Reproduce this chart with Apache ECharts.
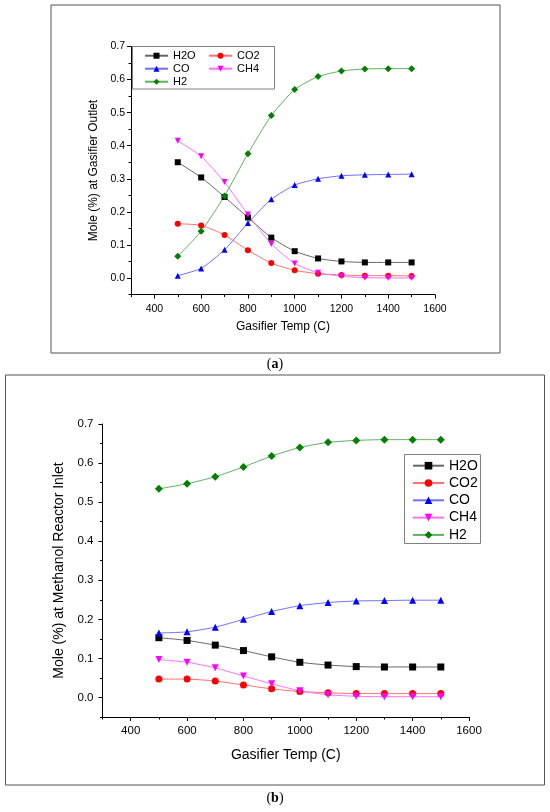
<!DOCTYPE html>
<html>
<head>
<meta charset="utf-8">
<script src="https://cdn.jsdelivr.net/npm/echarts@6/dist/echarts.min.js"></script>
<style>
html, body { margin: 0; padding: 0; background: #fff; }
#main { width: 550px; height: 812px; }
</style>
</head>
<body>
<div id="main"></div>
<script>
// gasifier temperature (C)
const temps = [500, 600, 700, 800, 900, 1000, 1100, 1200, 1300, 1400, 1500];

// (a) mole fraction at gasifier outlet
const outletH2O = [0.350, 0.304, 0.245, 0.183, 0.122, 0.081, 0.059, 0.050, 0.047, 0.047, 0.047];
const outletCO2 = [0.164, 0.159, 0.130, 0.084, 0.045, 0.023, 0.013, 0.009, 0.007, 0.007, 0.006];
const outletCO  = [0.007, 0.029, 0.085, 0.166, 0.238, 0.281, 0.300, 0.309, 0.312, 0.313, 0.314];
const outletCH4 = [0.415, 0.368, 0.290, 0.192, 0.103, 0.044, 0.016, 0.005, 0.001, 0.000, 0.000];
const outletH2  = [0.066, 0.141, 0.248, 0.376, 0.491, 0.570, 0.609, 0.626, 0.632, 0.633, 0.633];

// (b) mole fraction at methanol reactor inlet
const inletH2O = [0.153, 0.146, 0.134, 0.120, 0.104, 0.090, 0.083, 0.079, 0.078, 0.078, 0.078];
const inletCO2 = [0.047, 0.047, 0.042, 0.032, 0.022, 0.015, 0.012, 0.010, 0.010, 0.010, 0.010];
const inletCO  = [0.165, 0.168, 0.180, 0.200, 0.220, 0.235, 0.243, 0.247, 0.248, 0.249, 0.249];
const inletCH4 = [0.097, 0.090, 0.076, 0.055, 0.035, 0.017, 0.007, 0.003, 0.002, 0.002, 0.002];
const inletH2  = [0.534, 0.547, 0.565, 0.590, 0.618, 0.640, 0.653, 0.658, 0.660, 0.660, 0.660];

// tick positions
const xMajor = [400, 600, 800, 1000, 1200, 1400, 1600];
const xMinor = [300, 500, 700, 900, 1100, 1300, 1500];
const yMajor = [0, 0.1, 0.2, 0.3, 0.4, 0.5, 0.6, 0.7];
const yMinor = [-0.05, 0.05, 0.15, 0.25, 0.35, 0.45, 0.55, 0.65];

const FONT = 'Liberation Sans';
const downTriangle = 'path://M0,0 L10,0 L5,9 Z';

const STYLES = {
    H2O: { symbol: 'rect', color: '#000000', line: '#666666' },
    CO2: { symbol: 'circle', color: '#ff0000', line: '#ff7070' },
    CO:  { symbol: 'triangle', color: '#0000ff', line: '#7070ff' },
    CH4: { symbol: downTriangle, color: '#ff00ff', line: '#ff70ff' },
    H2:  { symbol: 'diamond', color: '#007f00', line: '#5fb05f' },
};

function makeSeries(name, values, axisIndex, size) {
    const s = STYLES[name];
    return {
        name: name,
        type: 'line',
        xAxisIndex: axisIndex,
        yAxisIndex: axisIndex,
        data: temps.map((t, i) => [t, values[i]]),
        symbol: s.symbol,
        symbolSize: name === 'H2' ? size + 1 : size,
        smooth: 0.2,
        itemStyle: { color: s.color },
        lineStyle: { color: s.line, width: 1 },
        emphasis: { disabled: true },
    };
}

function xAxes(grid, labelSize, margin, nameSize, nameGap) {
    return [
        {
            gridIndex: grid, type: 'value', min: 300, max: 1600, position: 'bottom',
            axisLine: { onZero: false, lineStyle: { color: '#000', width: 1 } },
            axisTick: { customValues: xMajor, length: 4, lineStyle: { color: '#000' } },
            axisLabel: {
                customValues: xMajor, fontSize: labelSize, color: '#000', margin: margin, fontFamily: FONT,
                formatter: v => String(v),
            },
            splitLine: { show: false },
            name: 'Gasifier Temp (C)', nameLocation: 'middle', nameGap: nameGap,
            nameTextStyle: { fontSize: nameSize, color: '#000', fontFamily: FONT },
        },
        {
            gridIndex: grid, type: 'value', min: 300, max: 1600, position: 'bottom',
            axisLine: { show: false, onZero: false },
            axisTick: { customValues: xMinor, length: 2.5, lineStyle: { color: '#000' } },
            axisLabel: { show: false },
            splitLine: { show: false },
        },
    ];
}

function yAxes(grid, labelSize, margin, name, nameSize, nameGap) {
    return [
        {
            gridIndex: grid, type: 'value', min: -0.05, max: 0.7, position: 'left',
            axisLine: { show: true, onZero: false, lineStyle: { color: '#000', width: 1 } },
            axisTick: { show: true, customValues: yMajor, length: 4, lineStyle: { color: '#000' } },
            axisLabel: {
                customValues: yMajor, fontSize: labelSize, color: '#000', margin: margin, fontFamily: FONT,
                formatter: v => v.toFixed(1),
            },
            splitLine: { show: false },
            name: name, nameLocation: 'middle', nameGap: nameGap,
            nameTextStyle: { fontSize: nameSize, color: '#000', fontFamily: FONT },
        },
        {
            gridIndex: grid, type: 'value', min: -0.05, max: 0.7, position: 'left',
            axisLine: { show: false, onZero: false },
            axisTick: { show: true, customValues: yMinor, length: 2.5, lineStyle: { color: '#000' } },
            axisLabel: { show: false },
            splitLine: { show: false },
        },
    ];
}

function panelLabel(letter, y) {
    return {
        type: 'text', left: 'center', top: y,
        style: {
            text: '{p|(}{b|' + letter + '}{p|)}',
            rich: {
                p: { fontFamily: 'Liberation Serif', fontSize: 14, fill: '#000' },
                b: { fontFamily: 'Liberation Serif', fontSize: 14, fontWeight: 'bold', fill: '#000' },
            },
        },
    };
}

const chart = echarts.init(document.getElementById('main'), null, { renderer: 'canvas' });

const option = {
    animation: false,
    backgroundColor: '#fff',
    grid: [
        { left: 131, top: 46.5, width: 304, height: 248 },
        { left: 102.5, top: 424, width: 366.5, height: 293 },
    ],
    xAxis: [...xAxes(0, 10.5, 9, 12, 26), ...xAxes(1, 11.5, 8, 14, 31)],
    yAxis: [
        ...yAxes(0, 10.5, 6, 'Mole (%) at Gasifier Outlet', 12, 22),
        ...yAxes(1, 11.5, 9, 'Mole (%) at Methanol Reactor Inlet', 14, 31),
    ],
    legend: [
        {
            data: ['H2O', 'CO', 'H2'], orient: 'vertical', left: 144, top: 50.2, padding: 0,
            itemWidth: 23, itemHeight: 7.5, itemGap: 2, selectedMode: false,
            textStyle: { fontSize: 11, lineHeight: 11, color: '#000', fontFamily: FONT },
        },
        {
            data: ['CO2', 'CH4'], orient: 'vertical', left: 208, top: 50.2, padding: 0,
            itemWidth: 23, itemHeight: 7.5, itemGap: 2, selectedMode: false,
            textStyle: { fontSize: 11, lineHeight: 11, color: '#000', fontFamily: FONT },
        },
        {
            data: ['H2O', 'CO2', 'CO', 'CH4', 'H2'], orient: 'vertical', left: 412, top: 458.7, padding: 0,
            itemWidth: 31, itemHeight: 9.5, itemGap: 3.3, selectedMode: false,
            textStyle: { fontSize: 14, lineHeight: 14, color: '#000', fontFamily: FONT },
        },
    ],
    graphic: [
        { type: 'rect', shape: { x: 51, y: 5, width: 449, height: 348 }, style: { fill: 'none', stroke: '#555', lineWidth: 1 }, silent: true },
        { type: 'rect', shape: { x: 5.5, y: 375, width: 539, height: 410 }, style: { fill: 'none', stroke: '#555', lineWidth: 1 }, silent: true },
        { type: 'rect', shape: { x: 132.5, y: 46.5, width: 142, height: 42.5 }, style: { fill: 'none', stroke: '#808080', lineWidth: 1 }, silent: true, z: 5 },
        { type: 'rect', shape: { x: 404.5, y: 454.5, width: 76, height: 89 }, style: { fill: 'none', stroke: '#808080', lineWidth: 1 }, silent: true, z: 5 },
        panelLabel('a', 357),
        panelLabel('b', 791),
    ],
    series: [
        makeSeries('H2O', outletH2O, 0, 6),
        makeSeries('CO2', outletCO2, 0, 6),
        makeSeries('CO', outletCO, 0, 6),
        makeSeries('CH4', outletCH4, 0, 6),
        makeSeries('H2', outletH2, 0, 6),
        makeSeries('H2O', inletH2O, 2, 7),
        makeSeries('CO2', inletCO2, 2, 7),
        makeSeries('CO', inletCO, 2, 7),
        makeSeries('CH4', inletCH4, 2, 7),
        makeSeries('H2', inletH2, 2, 7),
    ],
};

chart.setOption(option);
</script>
</body>
</html>
